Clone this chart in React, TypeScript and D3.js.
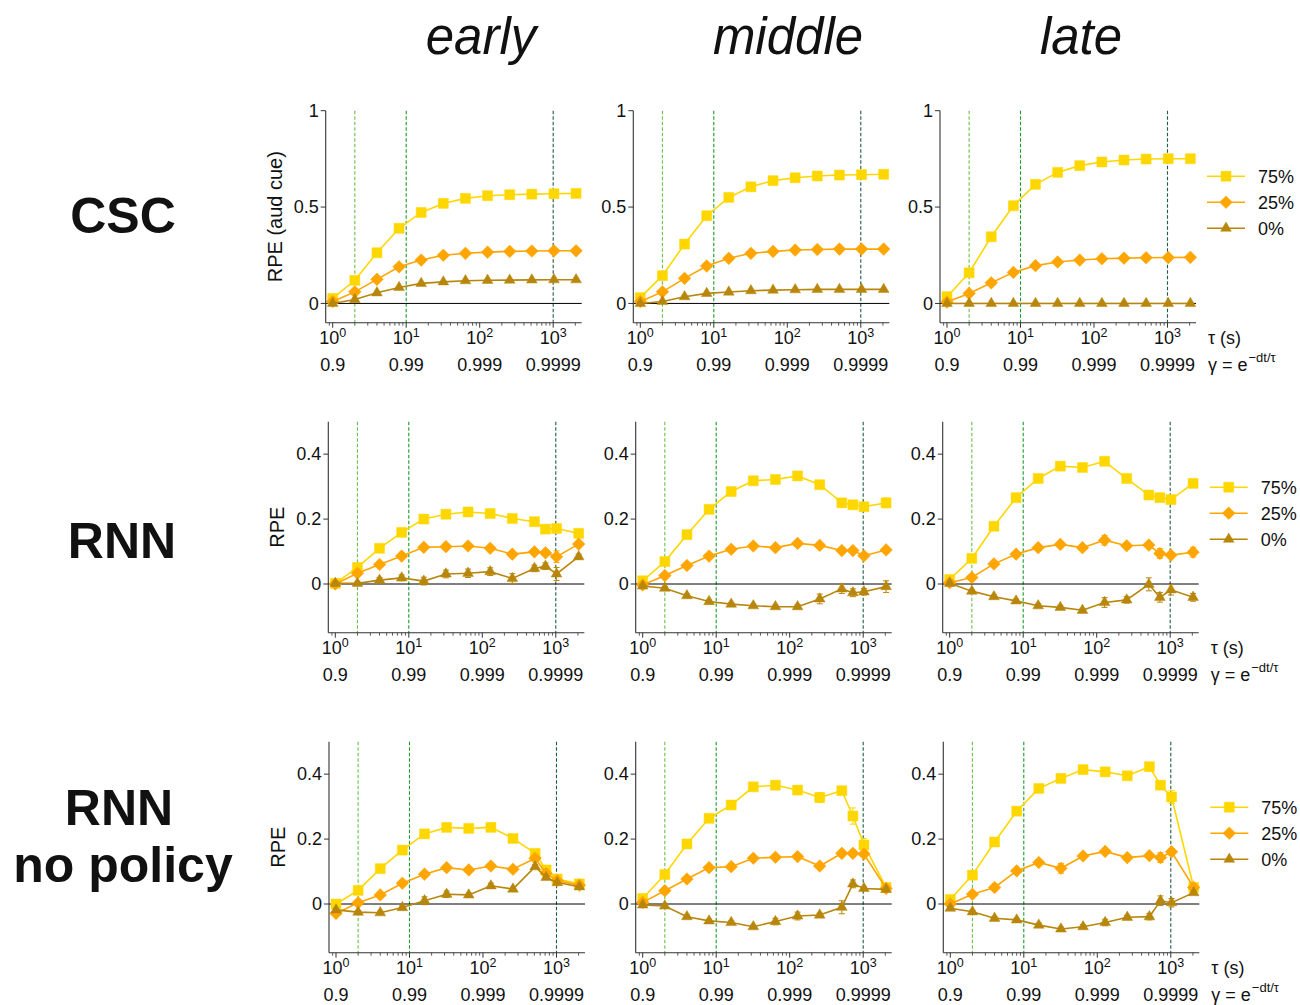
import React from 'react'
import * as d3 from 'd3'

// time constants (s) on the x axis
const tauCSC = [1, 2, 4, 8, 16, 32, 64, 128, 256, 512, 1024, 2048]
const tauRNN = [1, 2, 4, 8, 16, 32, 64, 128, 256, 512, 724, 1024, 2048]
const conditions = ['75%', '25%', '0%']
const stages = ['early', 'middle', 'late']
const decadeTicks = [1, 10, 100, 1000]
const gammaLabels = ['0.9', '0.99', '0.999', '0.9999']
const guideTaus = [2, 10, 1000]

// CSC
const cscEarly75 = [0.026, 0.12, 0.263, 0.39, 0.472, 0.519, 0.545, 0.559, 0.564, 0.567, 0.569, 0.571]
const cscEarly25 = [0.01, 0.06, 0.125, 0.19, 0.225, 0.25, 0.26, 0.266, 0.27, 0.272, 0.273, 0.273]
const cscEarly0 = [0.0, 0.02, 0.055, 0.083, 0.104, 0.112, 0.118, 0.12, 0.121, 0.122, 0.123, 0.123]
const cscMiddle75 = [0.03, 0.144, 0.308, 0.455, 0.55, 0.605, 0.637, 0.652, 0.661, 0.666, 0.668, 0.67]
const cscMiddle25 = [0.01, 0.06, 0.13, 0.194, 0.234, 0.26, 0.27, 0.277, 0.28, 0.282, 0.282, 0.282]
const cscMiddle0 = [0.0, 0.01, 0.035, 0.052, 0.059, 0.066, 0.069, 0.071, 0.073, 0.073, 0.073, 0.073]
const cscLate75 = [0.035, 0.159, 0.346, 0.507, 0.618, 0.68, 0.715, 0.734, 0.744, 0.749, 0.751, 0.751]
const cscLate25 = [0.007, 0.052, 0.107, 0.161, 0.196, 0.215, 0.225, 0.232, 0.235, 0.237, 0.238, 0.239]
const cscLate0 = [0, 0, 0, 0, 0, 0, 0, 0, 0, 0, 0, 0]

// RNN
const rnnEarly75 = [0.002, 0.051, 0.11, 0.159, 0.2, 0.215, 0.222, 0.217, 0.202, 0.192, 0.169, 0.171, 0.156]
const rnnEarly25 = [0.0, 0.033, 0.06, 0.086, 0.113, 0.115, 0.117, 0.11, 0.092, 0.099, 0.096, 0.084, 0.123]
const rnnEarly0 = [0.002, 0.002, 0.012, 0.019, 0.009, 0.031, 0.033, 0.038, 0.017, 0.048, 0.055, 0.031, 0.084]
const rnnMiddle75 = [0.01, 0.069, 0.152, 0.23, 0.285, 0.318, 0.322, 0.333, 0.306, 0.25, 0.244, 0.238, 0.25]
const rnnMiddle25 = [-0.003, 0.026, 0.057, 0.086, 0.107, 0.117, 0.112, 0.125, 0.119, 0.103, 0.103, 0.087, 0.105]
const rnnMiddle0 = [-0.006, -0.013, -0.036, -0.054, -0.062, -0.067, -0.07, -0.07, -0.046, -0.015, -0.027, -0.024, -0.008]
const rnnLate75 = [0.014, 0.079, 0.178, 0.266, 0.325, 0.363, 0.359, 0.378, 0.325, 0.274, 0.266, 0.26, 0.31]
const rnnLate25 = [0.004, 0.02, 0.062, 0.092, 0.112, 0.122, 0.112, 0.135, 0.118, 0.12, 0.094, 0.089, 0.098]
const rnnLate0 = [0.002, -0.022, -0.039, -0.052, -0.067, -0.072, -0.081, -0.057, -0.049, -0.001, -0.041, -0.018, -0.041]

const rnnEarly75Err = [0.003, 0.004, 0.004, 0.004, 0.004, 0.004, 0.004, 0.004, 0.004, 0.008, 0.005, 0.006, 0.004]
const rnnEarly25Err = [0.003, 0.004, 0.004, 0.004, 0.004, 0.004, 0.004, 0.004, 0.005, 0.006, 0.006, 0.018, 0.005]
const rnnEarly0Err = [0.004, 0.006, 0.008, 0.009, 0.012, 0.012, 0.013, 0.012, 0.015, 0.01, 0.01, 0.02, 0.008]
const rnnMiddle75Err = [0.003, 0.004, 0.004, 0.004, 0.005, 0.01, 0.006, 0.006, 0.006, 0.006, 0.006, 0.006, 0.015]
const rnnMiddle25Err = [0.003, 0.004, 0.004, 0.004, 0.004, 0.004, 0.004, 0.005, 0.005, 0.005, 0.006, 0.005, 0.006]
const rnnMiddle0Err = [0.004, 0.005, 0.005, 0.005, 0.005, 0.005, 0.005, 0.006, 0.015, 0.014, 0.012, 0.01, 0.018]
const rnnLate75Err = [0.003, 0.004, 0.004, 0.005, 0.008, 0.006, 0.006, 0.01, 0.008, 0.01, 0.006, 0.008, 0.012]
const rnnLate25Err = [0.003, 0.004, 0.005, 0.005, 0.005, 0.005, 0.006, 0.015, 0.006, 0.006, 0.015, 0.008, 0.015]
const rnnLate0Err = [0.004, 0.005, 0.005, 0.005, 0.006, 0.006, 0.006, 0.015, 0.01, 0.02, 0.015, 0.016, 0.012]

// RNN, no policy
const npEarly75 = [0.0, 0.042, 0.109, 0.166, 0.216, 0.236, 0.233, 0.236, 0.202, 0.156, 0.105, 0.077, 0.062]
const npEarly25 = [-0.029, 0.004, 0.028, 0.064, 0.092, 0.112, 0.105, 0.117, 0.107, 0.141, 0.094, 0.072, 0.058]
const npEarly0 = [-0.018, -0.025, -0.027, -0.011, 0.01, 0.03, 0.028, 0.056, 0.046, 0.115, 0.082, 0.066, 0.053]
const npMiddle75 = [0.017, 0.091, 0.185, 0.264, 0.305, 0.361, 0.366, 0.351, 0.328, 0.349, 0.271, 0.182, 0.051]
const npMiddle25 = [0.005, 0.041, 0.077, 0.112, 0.115, 0.141, 0.144, 0.146, 0.117, 0.156, 0.156, 0.154, 0.048]
const npMiddle0 = [-0.003, -0.006, -0.039, -0.052, -0.057, -0.07, -0.054, -0.037, -0.034, -0.01, 0.062, 0.048, 0.045]
const npLate75 = [0.014, 0.089, 0.191, 0.286, 0.356, 0.387, 0.414, 0.407, 0.395, 0.423, 0.366, 0.33, 0.051]
const npLate25 = [0.0, 0.03, 0.051, 0.102, 0.128, 0.11, 0.148, 0.162, 0.143, 0.149, 0.143, 0.161, 0.051]
const npLate0 = [-0.013, -0.024, -0.044, -0.049, -0.065, -0.077, -0.07, -0.057, -0.041, -0.039, 0.01, 0.004, 0.035]

const npEarly75Err = [0.004, 0.004, 0.004, 0.004, 0.004, 0.005, 0.004, 0.004, 0.004, 0.006, 0.005, 0.005, 0.004]
const npEarly25Err = [0.004, 0.004, 0.004, 0.004, 0.004, 0.004, 0.004, 0.004, 0.004, 0.006, 0.005, 0.005, 0.004]
const npEarly0Err = [0.004, 0.005, 0.005, 0.005, 0.012, 0.01, 0.006, 0.008, 0.006, 0.006, 0.005, 0.005, 0.004]
const npMiddle75Err = [0.004, 0.004, 0.004, 0.004, 0.004, 0.005, 0.005, 0.005, 0.015, 0.006, 0.025, 0.02, 0.006]
const npMiddle25Err = [0.004, 0.004, 0.004, 0.004, 0.004, 0.005, 0.005, 0.006, 0.006, 0.01, 0.01, 0.006, 0.004]
const npMiddle0Err = [0.004, 0.005, 0.005, 0.005, 0.005, 0.005, 0.01, 0.012, 0.006, 0.02, 0.012, 0.005, 0.005]
const npLate75Err = [0.004, 0.004, 0.004, 0.005, 0.005, 0.005, 0.006, 0.008, 0.012, 0.006, 0.012, 0.02, 0.006]
const npLate25Err = [0.004, 0.004, 0.01, 0.005, 0.005, 0.015, 0.006, 0.006, 0.008, 0.008, 0.015, 0.01, 0.005]
const npLate0Err = [0.005, 0.005, 0.005, 0.005, 0.006, 0.006, 0.006, 0.01, 0.006, 0.01, 0.015, 0.013, 0.005]

const rows = [
  {
    model: ['CSC'],
    taus: tauCSC,
    yDomain: [-0.1, 1],
    yTicks: [0, 0.5, 1],
    yLabel: 'RPE (aud cue)',
    values: [[cscEarly75, cscEarly25, cscEarly0], [cscMiddle75, cscMiddle25, cscMiddle0], [cscLate75, cscLate25, cscLate0]],
    errors: null,
  },
  {
    model: ['RNN'],
    taus: tauRNN,
    yDomain: [-0.15, 0.5],
    yTicks: [0, 0.2, 0.4],
    yLabel: 'RPE',
    values: [[rnnEarly75, rnnEarly25, rnnEarly0], [rnnMiddle75, rnnMiddle25, rnnMiddle0], [rnnLate75, rnnLate25, rnnLate0]],
    errors: [[rnnEarly75Err, rnnEarly25Err, rnnEarly0Err], [rnnMiddle75Err, rnnMiddle25Err, rnnMiddle0Err], [rnnLate75Err, rnnLate25Err, rnnLate0Err]],
  },
  {
    model: ['RNN', 'no policy'],
    taus: tauRNN,
    yDomain: [-0.15, 0.5],
    yTicks: [0, 0.2, 0.4],
    yLabel: 'RPE',
    values: [[npEarly75, npEarly25, npEarly0], [npMiddle75, npMiddle25, npMiddle0], [npLate75, npLate25, npLate0]],
    errors: [[npEarly75Err, npEarly25Err, npEarly0Err], [npMiddle75Err, npMiddle25Err, npMiddle0Err], [npLate75Err, npLate25Err, npLate0Err]],
  },
]

// layout
const FONT = '"Liberation Sans", Arial, Helvetica, sans-serif'
const W = 1300
const H = 1005
const plotW = 256
const tickFont = 18
const layout = [
  { yTop: 110.7, yBot: 322.7, x0: [325.7, 633.3, 940], labelY: [233], labelX: [123] },
  { yTop: 421.7, yBot: 632.7, x0: [328.3, 635.7, 942.7], labelY: [558], labelX: [122] },
  { yTop: 741.7, yBot: 952.7, x0: [329, 635.7, 943.3], labelY: [825, 882], labelX: [119, 123] },
]
const titleX = [481, 788, 1081]
const colors = ['#FFD700', '#FFA500', '#B8860B']
const guideColors = ['#6cc04a', '#1a9a2a', '#1f5c45']
const xDomain = [0.803, 2443]

const markerPath = [
  d3.symbol().type(d3.symbolSquare).size(100)(),
  d3.symbol().type(d3.symbolSquare).size(80)(),
  d3.symbol().type(d3.symbolTriangle).size(50)(),
]
const markerRotate = [0, 45, 0]

const minorTicks: number[] = []
for (let k = -1; k <= 3; k++) {
  for (let m = 2; m <= 9; m++) {
    const v = m * Math.pow(10, k)
    if (v >= xDomain[0] && v <= xDomain[1]) minorTicks.push(v)
  }
}

const Marker = ({ i, x, y }) => (
  <path d={markerPath[i]} transform={`translate(${x},${y}) rotate(${markerRotate[i]})`} fill={colors[i]} stroke={colors[i]} strokeOpacity={0.6} strokeWidth={0.8} />
)

const Panel = ({ row, r, c }) => {
  const { yTop, yBot } = layout[r]
  const x0 = layout[r].x0[c]
  const x = d3.scaleLog().domain(xDomain).range([x0, x0 + plotW])
  const y = d3.scaleLinear().domain(row.yDomain).range([yBot, yTop])
  const line = d3
    .line<number>()
    .x((d, i) => x(row.taus[i]))
    .y((d) => y(d))
  const errs = row.errors ? row.errors[c] : null

  return (
    <g>
      {/* guide lines */}
      {guideTaus.map((t, i) => (
        <line key={t} x1={x(t)} x2={x(t)} y1={yTop} y2={yBot} stroke={guideColors[i]} strokeWidth={1.1} strokeDasharray='3.5,2' />
      ))}
      <line x1={x0} x2={x0 + plotW} y1={y(0)} y2={y(0)} stroke='#000' strokeWidth={1} />

      {/* series */}
      {row.values[c].map((vals, si) => (
        <g key={si}>
          <path d={line(vals)} fill='none' stroke={colors[si]} strokeWidth={1.6} />
          {errs &&
            vals.map((v, i) => {
              const e = errs[si][i]
              const px = x(row.taus[i])
              return (
                <g key={i} stroke={colors[si]} strokeWidth={1}>
                  <line x1={px} x2={px} y1={y(v - e)} y2={y(v + e)} />
                  <line x1={px - 3} x2={px + 3} y1={y(v - e)} y2={y(v - e)} />
                  <line x1={px - 3} x2={px + 3} y1={y(v + e)} y2={y(v + e)} />
                </g>
              )
            })}
          {vals.map((v, i) => (
            <Marker key={i} i={si} x={x(row.taus[i])} y={y(v)} />
          ))}
        </g>
      ))}

      {/* spines */}
      <line x1={x0} x2={x0} y1={yTop} y2={yBot} stroke='#333' strokeWidth={1.1} />
      <line x1={x0} x2={x0 + plotW} y1={yBot} y2={yBot} stroke='#333' strokeWidth={1.1} />

      {/* y ticks */}
      {row.yTicks.map((t) => (
        <g key={t}>
          <line x1={x0 - 5} x2={x0} y1={y(t)} y2={y(t)} stroke='#333' strokeWidth={1} />
          <text x={x0 - 7} y={y(t)} dy='0.35em' textAnchor='end' fontSize={tickFont} fill='#111'>
            {String(t)}
          </text>
        </g>
      ))}

      {/* x ticks */}
      {minorTicks.map((t) => (
        <line key={t} x1={x(t)} x2={x(t)} y1={yBot} y2={yBot + 3} stroke='#333' strokeWidth={0.8} />
      ))}
      {decadeTicks.map((t, i) => (
        <g key={t}>
          <line x1={x(t)} x2={x(t)} y1={yBot} y2={yBot + 5} stroke='#333' strokeWidth={1} />
          <text x={x(t)} y={yBot + 21.5} textAnchor='middle' fontSize={tickFont} fill='#111'>
            10
            <tspan fontSize={12.5} dy={-7}>
              {i}
            </tspan>
          </text>
          <text x={x(t)} y={yBot + 48} textAnchor='middle' fontSize={tickFont} fill='#111'>
            {gammaLabels[i]}
          </text>
        </g>
      ))}

      {c === 0 && (
        <text transform={`translate(${x0 - 44},${(yTop + yBot) / 2}) rotate(-90)`} textAnchor='middle' fontSize={20} fill='#111'>
          {row.yLabel}
        </text>
      )}

      {c === 2 && (
        <g>
          {conditions.map((cond, si) => {
            const ly = yTop + 65.5 + si * 26
            return (
              <g key={cond}>
                <line x1={x0 + 267} x2={x0 + 305} y1={ly} y2={ly} stroke={colors[si]} strokeWidth={1.6} />
                <Marker i={si} x={x0 + 286} y={ly} />
                <text x={x0 + 318} y={ly} dy='0.35em' fontSize={tickFont} fill='#111'>
                  {cond}
                </text>
              </g>
            )
          })}
          <text x={x0 + 268} y={yBot + 21.5} fontSize={tickFont} fill='#111'>
            τ (s)
          </text>
          <text x={x0 + 268} y={yBot + 48} fontSize={tickFont} fill='#111'>
            γ = e
            <tspan fontSize={13} dx={1} dy={-9}>
              −dt/τ
            </tspan>
          </text>
        </g>
      )}
    </g>
  )
}

export default function App() {
  return (
    <svg width={W} height={H} style={{ position: 'absolute', left: 0, top: 0, background: '#fff' }} fontFamily={FONT}>
      <rect width={W} height={H} fill='#fff' />
      {stages.map((s, i) => (
        <text key={s} x={titleX[i]} y={54} textAnchor='middle' fontSize={51} fontStyle='italic' fill='#111'>
          {s}
        </text>
      ))}
      {rows.map((row, r) => (
        <g key={r}>
          {row.model.map((m, k) => (
            <text key={m} x={layout[r].labelX[k]} y={layout[r].labelY[k]} textAnchor='middle' fontSize={50} fontWeight='bold' fill='#111'>
              {m}
            </text>
          ))}
          {stages.map((s, c) => (
            <Panel key={s} row={row} r={r} c={c} />
          ))}
        </g>
      ))}
    </svg>
  )
}
